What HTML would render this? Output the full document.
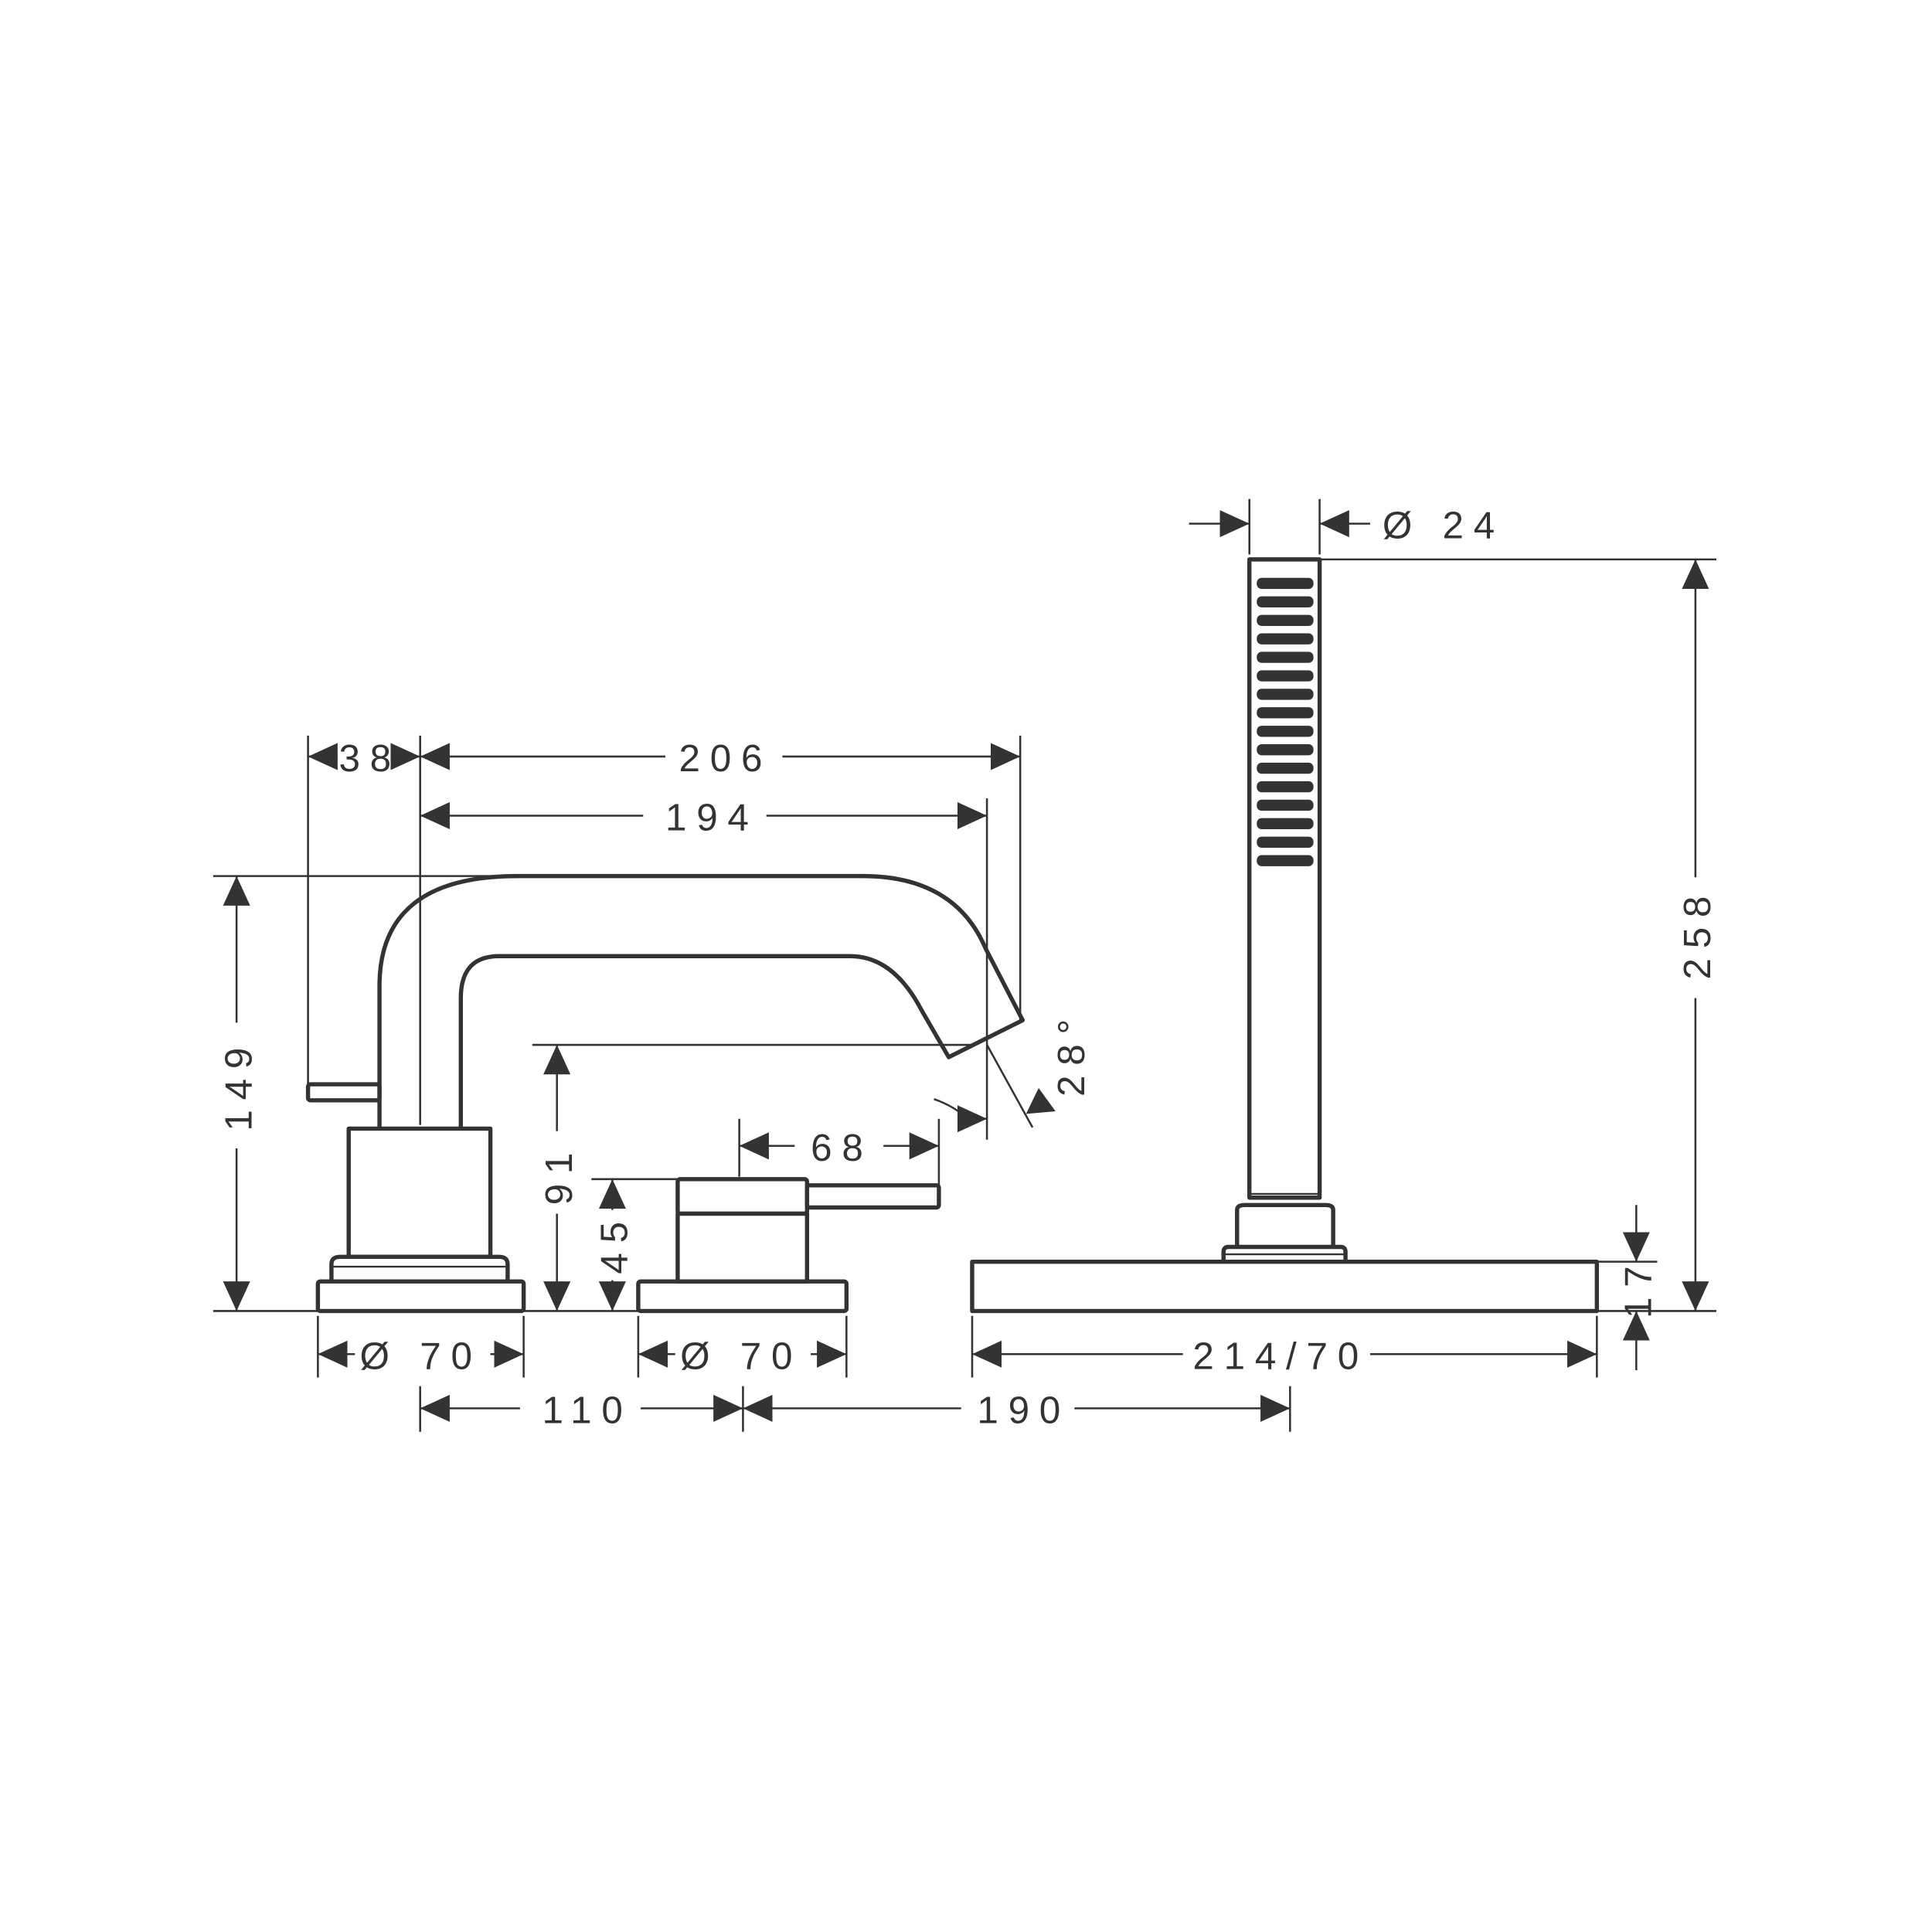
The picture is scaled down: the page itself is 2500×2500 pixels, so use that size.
<!DOCTYPE html>
<html><head><meta charset="utf-8"><style>
html,body{margin:0;padding:0;background:#fff}
svg{display:block}
text{font-family:"Liberation Sans",sans-serif;font-size:31px;fill:#333;letter-spacing:8px}
</style></head><body>
<svg width="2500" height="2500" viewBox="0 0 1568 1568" xmlns="http://www.w3.org/2000/svg">
<defs>
<marker id="a" markerUnits="userSpaceOnUse" markerWidth="24" markerHeight="22" refX="24" refY="11" orient="auto-start-reverse"><path d="M0,0 L24,11 L0,22 z" fill="#333"/></marker>
</defs>
<g stroke="#333" stroke-width="1.6" fill="none">
<line x1="173" y1="1064" x2="258" y2="1064"/>
<line x1="425" y1="1064" x2="518" y2="1064"/>
<line x1="1296" y1="1064" x2="1393" y2="1064"/>
<line x1="173" y1="711" x2="420" y2="711"/>
<line x1="250" y1="597" x2="250" y2="880"/>
<line x1="341" y1="597" x2="341" y2="913"/>
<line x1="801" y1="648" x2="801" y2="925"/>
<line x1="828" y1="597" x2="828" y2="828"/>
<line x1="432" y1="848" x2="790" y2="848"/>
<line x1="480" y1="957" x2="550" y2="957"/>
<line x1="600" y1="908" x2="600" y2="955"/>
<line x1="762" y1="908" x2="762" y2="962"/>
<line x1="801" y1="848" x2="838" y2="915"/>
<path d="M758,892 Q775,898 785,908"/>
<line x1="258" y1="1068" x2="258" y2="1118"/>
<line x1="425" y1="1068" x2="425" y2="1118"/>
<line x1="518" y1="1068" x2="518" y2="1118"/>
<line x1="687" y1="1068" x2="687" y2="1118"/>
<line x1="789" y1="1068" x2="789" y2="1118"/>
<line x1="1296" y1="1068" x2="1296" y2="1118"/>
<line x1="341" y1="1125" x2="341" y2="1162"/>
<line x1="603" y1="1125" x2="603" y2="1162"/>
<line x1="1047" y1="1125" x2="1047" y2="1162"/>
<line x1="1014" y1="405" x2="1014" y2="450"/>
<line x1="1071" y1="405" x2="1071" y2="450"/>
<line x1="1071" y1="454" x2="1393" y2="454"/>
<line x1="1296" y1="1024" x2="1345" y2="1024"/>
<line x1="274" y1="614" x2="250" y2="614" marker-end="url(#a)"/>
<line x1="317" y1="614" x2="341" y2="614" marker-end="url(#a)"/>
<line x1="540" y1="614" x2="341" y2="614" marker-end="url(#a)"/>
<line x1="635" y1="614" x2="828" y2="614" marker-end="url(#a)"/>
<line x1="522" y1="662" x2="341" y2="662" marker-end="url(#a)"/>
<line x1="622" y1="662" x2="801" y2="662" marker-end="url(#a)"/>
<line x1="192" y1="830" x2="192" y2="711" marker-end="url(#a)"/>
<line x1="192" y1="932" x2="192" y2="1064" marker-end="url(#a)"/>
<line x1="452" y1="918" x2="452" y2="848" marker-end="url(#a)"/>
<line x1="452" y1="985" x2="452" y2="1064" marker-end="url(#a)"/>
<line x1="497" y1="982" x2="497" y2="957" marker-end="url(#a)"/>
<line x1="497" y1="1039" x2="497" y2="1064" marker-end="url(#a)"/>
<line x1="645" y1="930" x2="600" y2="930" marker-end="url(#a)"/>
<line x1="717" y1="930" x2="762" y2="930" marker-end="url(#a)"/>
<line x1="780" y1="908" x2="801" y2="908" marker-end="url(#a)"/>
<line x1="288" y1="1099" x2="258" y2="1099" marker-end="url(#a)"/>
<line x1="398" y1="1099" x2="425" y2="1099" marker-end="url(#a)"/>
<line x1="548" y1="1099" x2="518" y2="1099" marker-end="url(#a)"/>
<line x1="658" y1="1099" x2="687" y2="1099" marker-end="url(#a)"/>
<line x1="960" y1="1099" x2="789" y2="1099" marker-end="url(#a)"/>
<line x1="1112" y1="1099" x2="1296" y2="1099" marker-end="url(#a)"/>
<line x1="422" y1="1143" x2="341" y2="1143" marker-end="url(#a)"/>
<line x1="520" y1="1143" x2="603" y2="1143" marker-end="url(#a)"/>
<line x1="780" y1="1143" x2="603" y2="1143" marker-end="url(#a)"/>
<line x1="872" y1="1143" x2="1047" y2="1143" marker-end="url(#a)"/>
<line x1="965" y1="425" x2="1014" y2="425" marker-end="url(#a)"/>
<line x1="1112" y1="425" x2="1071" y2="425" marker-end="url(#a)"/>
<line x1="1376" y1="712" x2="1376" y2="454" marker-end="url(#a)"/>
<line x1="1376" y1="810" x2="1376" y2="1064" marker-end="url(#a)"/>
<line x1="1328" y1="978" x2="1328" y2="1024" marker-end="url(#a)"/>
<line x1="1328" y1="1112" x2="1328" y2="1064" marker-end="url(#a)"/>
</g>
<polygon points="832,903 856,903 844,883" fill="#333" transform="rotate(-5 844 895)"/>
<g stroke="#333" stroke-width="3.4" fill="none" stroke-linejoin="round">
<rect x="258" y="1040" width="167" height="24" rx="2"/>
<path d="M269,1040 L269,1026 Q269,1020 276,1020 L405,1020 Q412,1020 412,1026 L412,1040"/>
<line x1="270" y1="1028" x2="411" y2="1028" stroke-width="1.5"/>
<rect x="283" y="916" width="115" height="104"/>
<rect x="250" y="880" width="58" height="13" rx="2"/>
<path d="M308,916 L308,800 Q308,711 420,711 L700,711 Q775,711 800,770 L830,828 L770,858 L748,820 Q725,776 690,776 L405,776 Q374,776 374,810 L374,916"/>
<rect x="518" y="1040" width="169" height="24" rx="2"/>
<rect x="550" y="985" width="105" height="55"/>
<rect x="550" y="957" width="105" height="28" rx="2"/>
<rect x="655" y="962" width="107" height="18" rx="2"/>
<rect x="789" y="1024" width="507" height="40"/>
<path d="M993,1024 L993,1016 Q993,1012 997,1012 L1088,1012 Q1092,1012 1092,1016 L1092,1024"/>
<line x1="994" y1="1018" x2="1091" y2="1018" stroke-width="1.5"/>
<path d="M1004,1012 L1004,982 Q1004,978 1010,978 L1076,978 Q1082,978 1082,982 L1082,1012"/>
<rect x="1014" y="454" width="57" height="518"/>
<line x1="1015" y1="969" x2="1070" y2="969" stroke-width="1.5"/>
</g>
<g fill="#333">
<rect x="1020" y="469" width="46" height="9" rx="4"/>
<rect x="1020" y="484" width="46" height="9" rx="4"/>
<rect x="1020" y="499" width="46" height="9" rx="4"/>
<rect x="1020" y="514" width="46" height="9" rx="4"/>
<rect x="1020" y="529" width="46" height="9" rx="4"/>
<rect x="1020" y="544" width="46" height="9" rx="4"/>
<rect x="1020" y="559" width="46" height="9" rx="4"/>
<rect x="1020" y="574" width="46" height="9" rx="4"/>
<rect x="1020" y="589" width="46" height="9" rx="4"/>
<rect x="1020" y="604" width="46" height="9" rx="4"/>
<rect x="1020" y="619" width="46" height="9" rx="4"/>
<rect x="1020" y="634" width="46" height="9" rx="4"/>
<rect x="1020" y="649" width="46" height="9" rx="4"/>
<rect x="1020" y="664" width="46" height="9" rx="4"/>
<rect x="1020" y="679" width="46" height="9" rx="4"/>
<rect x="1020" y="694" width="46" height="9" rx="4"/>
</g>
<text x="275" y="626">38</text>
<text x="551" y="626">206</text>
<text x="540" y="674">194</text>
<text x="658" y="942">68</text>
<text x="292" y="1111">Ø 70</text>
<text x="552" y="1111">Ø 70</text>
<text x="968" y="1111">214/70</text>
<text x="440" y="1155">110</text>
<text x="793" y="1155">190</text>
<text x="1122" y="437">Ø 24</text>
<text transform="translate(204 918) rotate(-90)">149</text>
<text transform="translate(464 978) rotate(-90)">91</text>
<text transform="translate(509 1034) rotate(-90)">45</text>
<text transform="translate(1388 795) rotate(-90)">258</text>
<text transform="translate(1340 1070) rotate(-90)">17</text>
<text transform="translate(880 890) rotate(-90)">28°</text>
</svg>
</body></html>
